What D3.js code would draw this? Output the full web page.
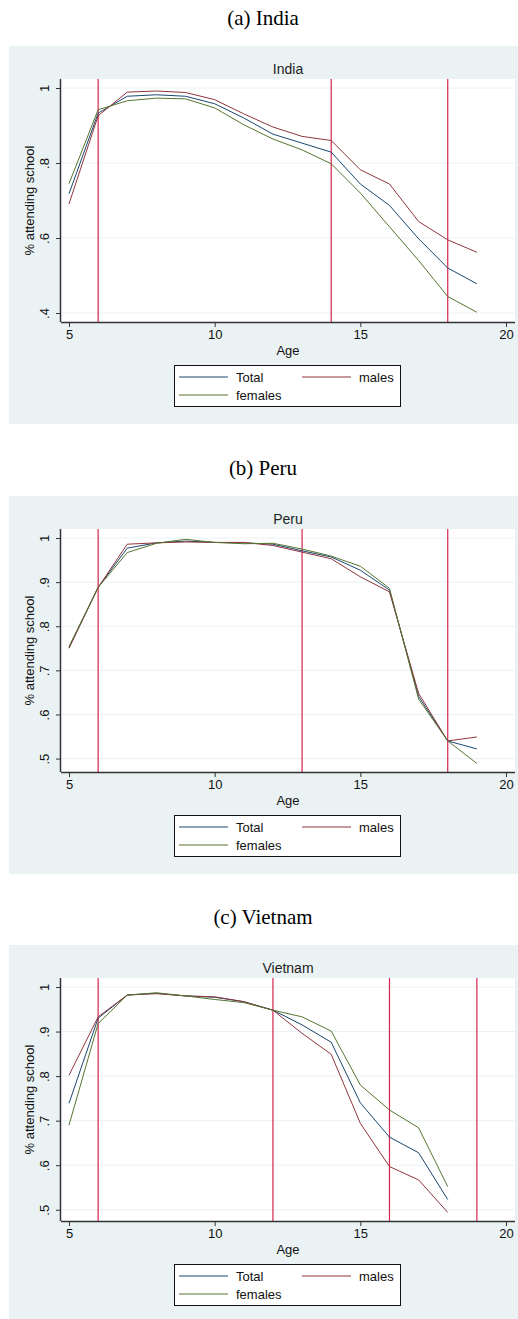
<!DOCTYPE html>
<html>
<head>
<meta charset="utf-8">
<script src="https://cdn.jsdelivr.net/npm/d3@7"></script>
<style>
body { margin: 0; background: #fff; }
svg { display: block; }
</style>
</head>
<body>
<svg></svg>
<script>
// ages on the x axis
const ages = [5, 6, 7, 8, 9, 10, 11, 12, 13, 14, 15, 16, 17, 18, 19];
const xTicks = [5, 10, 15, 20];

// India
const indiaTotal   = [0.718, 0.933, 0.978, 0.982, 0.978, 0.958, 0.920, 0.877, 0.853, 0.829, 0.744, 0.687, 0.598, 0.520, 0.478];
const indiaMales   = [0.691, 0.926, 0.989, 0.992, 0.988, 0.969, 0.931, 0.896, 0.871, 0.860, 0.782, 0.744, 0.644, 0.595, 0.562];
const indiaFemales = [0.745, 0.942, 0.966, 0.973, 0.971, 0.947, 0.902, 0.864, 0.835, 0.798, 0.720, 0.630, 0.540, 0.444, 0.402];
const indiaTicks = [0.4, 0.6, 0.8, 1];
const indiaCutoffs = [6, 14, 18];

// Peru
const peruTotal   = [0.752, 0.888, 0.977, 0.989, 0.993, 0.990, 0.989, 0.986, 0.971, 0.957, 0.927, 0.882, 0.641, 0.540, 0.522];
const peruMales   = [0.750, 0.888, 0.986, 0.989, 0.991, 0.990, 0.990, 0.983, 0.968, 0.953, 0.912, 0.878, 0.648, 0.540, 0.549];
const peruFemales = [0.754, 0.888, 0.967, 0.988, 0.997, 0.990, 0.987, 0.988, 0.975, 0.959, 0.936, 0.886, 0.635, 0.540, 0.489];
const peruTicks = [0.5, 0.6, 0.7, 0.8, 0.9, 1];
const peruCutoffs = [6, 13, 18];

// Vietnam (no age 19)
const vietnamTotal   = [0.739, 0.930, 0.982, 0.986, 0.980, 0.977, 0.967, 0.948, 0.915, 0.876, 0.740, 0.663, 0.628, 0.523];
const vietnamMales   = [0.802, 0.933, 0.982, 0.985, 0.980, 0.978, 0.967, 0.948, 0.896, 0.849, 0.694, 0.597, 0.567, 0.494];
const vietnamFemales = [0.690, 0.918, 0.982, 0.987, 0.980, 0.972, 0.965, 0.948, 0.933, 0.901, 0.780, 0.724, 0.684, 0.552];
const vietnamTicks = [0.5, 0.6, 0.7, 0.8, 0.9, 1];
const vietnamCutoffs = [6, 12, 16, 19];

const seriesNames = ['Total', 'males', 'females'];
const seriesColors = ['#1a476f', '#90353b', '#55752f'];

const panels = [
  { caption: '(a) India', title: 'India', top: 0, series: [indiaTotal, indiaMales, indiaFemales], ticks: indiaTicks, yMin: 0.4, cutoffs: indiaCutoffs },
  { caption: '(b) Peru', title: 'Peru', top: 450, series: [peruTotal, peruMales, peruFemales], ticks: peruTicks, yMin: 0.49, cutoffs: peruCutoffs },
  { caption: '(c) Vietnam', title: 'Vietnam', top: 899, series: [vietnamTotal, vietnamMales, vietnamFemales], ticks: vietnamTicks, yMin: 0.495, cutoffs: vietnamCutoffs }
];

const width = 518, height = 1319;
const svg = d3.select('svg').attr('width', width).attr('height', height);

const plotLeft = 61, plotRight = 515, plotTop = 79, plotBottom = 322;
const x = d3.scaleLinear().domain([5, 20]).range([69, 506]);
const font = 'Liberation Sans, Arial, sans-serif';

panels.forEach(p => {
  const g = svg.append('g').attr('transform', 'translate(0,' + p.top + ')');

  g.append('text')
    .attr('x', 263).attr('y', 25)
    .attr('text-anchor', 'middle')
    .style('font-family', 'Liberation Serif, Times New Roman, serif')
    .style('font-size', '21px')
    .text(p.caption);

  // gray graph region
  g.append('rect')
    .attr('x', 9).attr('y', 46)
    .attr('width', 509).attr('height', 378)
    .attr('fill', '#eaf2f3');

  g.append('text')
    .attr('x', 288).attr('y', 74)
    .attr('text-anchor', 'middle')
    .style('font-family', font)
    .style('font-size', '14px')
    .attr('fill', '#222')
    .text(p.title);

  g.append('rect')
    .attr('x', plotLeft).attr('y', plotTop)
    .attr('width', plotRight - plotLeft).attr('height', plotBottom - plotTop)
    .attr('fill', '#fff');

  const y = d3.scaleLinear().domain([p.yMin, 1]).range([plotBottom - 9, plotTop + 9]);

  // gridlines
  g.append('g')
    .selectAll('line')
    .data(p.ticks)
    .enter()
    .append('line')
    .attr('x1', plotLeft).attr('x2', plotRight)
    .attr('y1', d => y(d)).attr('y2', d => y(d))
    .attr('stroke', '#eaf2f3')
    .attr('stroke-width', 1);

  // cut-off ages
  g.append('g')
    .selectAll('line')
    .data(p.cutoffs)
    .enter()
    .append('line')
    .attr('x1', d => x(d)).attr('x2', d => x(d))
    .attr('y1', plotTop).attr('y2', plotBottom)
    .attr('stroke', '#d8244e')
    .attr('stroke-width', 1.2);

  const line = d3.line()
    .x((d, i) => x(ages[i]))
    .y(d => y(d));

  p.series.forEach((s, i) => {
    g.append('path')
      .datum(s)
      .attr('d', line)
      .attr('fill', 'none')
      .attr('stroke', seriesColors[i])
      .attr('stroke-width', 1);
  });

  // axes
  const xAxis = g.append('g')
    .attr('transform', 'translate(0,' + plotBottom + ')')
    .call(d3.axisBottom(x).tickValues(xTicks).tickSize(5).tickPadding(3));
  xAxis.select('.domain').attr('d', 'M' + plotLeft + ',0.5H' + plotRight).attr('stroke', '#333').attr('stroke-width', 1.5);
  xAxis.selectAll('.tick line').attr('stroke', '#333');
  xAxis.selectAll('text').style('font-family', font).style('font-size', '13px').attr('fill', '#111');

  const yAxis = g.append('g')
    .attr('transform', 'translate(' + plotLeft + ',0)')
    .call(d3.axisLeft(y).tickValues(p.ticks).tickSize(5)
      .tickFormat(d => d === 1 ? '1' : d3.format('.1f')(d).replace('0.', '.')));
  yAxis.select('.domain').attr('d', 'M-0.5,' + plotTop + 'V' + plotBottom).attr('stroke', '#333').attr('stroke-width', 1.5);
  yAxis.selectAll('.tick line').attr('stroke', '#333');
  yAxis.selectAll('text')
    .style('font-family', font).style('font-size', '13px').attr('fill', '#111')
    .attr('x', null).attr('dy', null)
    .attr('text-anchor', 'middle')
    .attr('transform', 'translate(-12,0) rotate(-90)');

  g.append('text')
    .attr('x', 288).attr('y', 355)
    .attr('text-anchor', 'middle')
    .style('font-family', font)
    .style('font-size', '13px')
    .attr('fill', '#111')
    .text('Age');

  g.append('text')
    .attr('transform', 'translate(34,' + ((plotTop + plotBottom) / 2) + ') rotate(-90)')
    .attr('text-anchor', 'middle')
    .style('font-family', font)
    .style('font-size', '13px')
    .attr('fill', '#111')
    .text('% attending school');

  // legend
  const lg = g.append('g');
  lg.append('rect')
    .attr('x', 174.5).attr('y', 365.5)
    .attr('width', 226).attr('height', 41)
    .attr('fill', '#fff')
    .attr('stroke', '#111');
  const legendPos = [[179, 377], [302, 377], [179, 395]];
  seriesNames.forEach((name, i) => {
    const [lx, ly] = legendPos[i];
    lg.append('line')
      .attr('x1', lx).attr('x2', lx + 49)
      .attr('y1', ly).attr('y2', ly)
      .attr('stroke', seriesColors[i]);
    lg.append('text')
      .attr('x', lx + 57).attr('y', ly + 5)
      .style('font-family', font)
      .style('font-size', '13px')
      .attr('fill', '#111')
      .text(name);
  });
});
</script>
</body>
</html>
